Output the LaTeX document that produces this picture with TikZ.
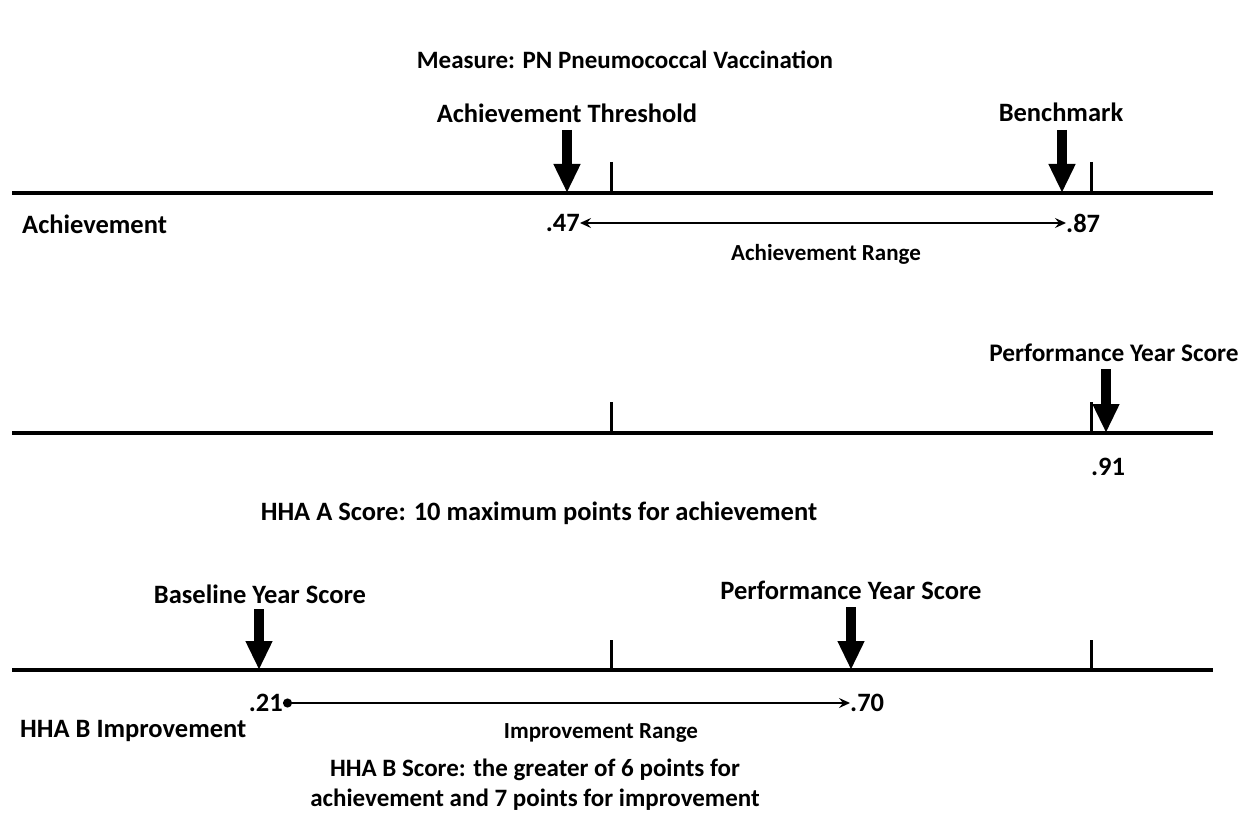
\documentclass[tikz,border=0pt]{standalone}
\usepackage{fontspec}
\setmainfont{Carlito}
\usetikzlibrary{arrows.meta}
\begin{document}
\begin{tikzpicture}[x=1pt,y=-1pt,
  lbl/.style={font=\bfseries\fontsize{26.5}{30}\selectfont, inner sep=0pt},
  small/.style={font=\bfseries\fontsize{23}{26}\selectfont, inner sep=0pt},
  axis/.style={line width=4pt},
  tickline/.style={line width=3pt},
  bigarrow/.style={line width=10pt, -{Triangle[width=25pt,length=29pt]}},
  rangeline/.style={line width=2pt},
  rtip/.tip={Stealth[length=11pt,width=10pt,inset=4pt]}
]
\useasboundingbox (0,0) rectangle (1241,834);
% title
\node[lbl, font=\bfseries\fontsize{25}{30}\selectfont] (title) at (625,60) {Measure: PN Pneumococcal Vaccination};

% ---- line 1
\coordinate (l1a) at (12,193);
\coordinate (l1b) at (1213,193);
\draw[axis] (l1a) -- (l1b);
\coordinate (t1a) at (611,162); \coordinate (t1ab) at (611,193);
\coordinate (t1b) at (1091,162); \coordinate (t1bb) at (1091,193);
\draw[tickline] (t1a) -- (t1ab);
\draw[tickline] (t1b) -- (t1bb);
\node[lbl] (at) at (567,113) {Achievement Threshold};
\node[lbl] (bm) at (1061,112) {Benchmark};
\coordinate (atp) at (567,193);
\coordinate (bmp) at (1062,193);
\coordinate (ats) at (567,130);
\coordinate (bms) at (1062,130);
\draw[bigarrow] (ats) -- (atp);
\draw[bigarrow] (bms) -- (bmp);
\node[lbl, anchor=west] (ach) at (22,224) {Achievement};
\node[lbl, anchor=east] (v47) at (580,223) {.47};
\node[lbl, anchor=west] (v87) at (1066,223) {.87};
\draw[rangeline, rtip-rtip] (v47.east) -- (v87.west);
\node[small] (arange) at (826,254) {Achievement Range};

% ---- line 2
\coordinate (l2a) at (12,433);
\coordinate (l2b) at (1213,433);
\draw[axis] (l2a) -- (l2b);
\coordinate (t2a) at (611,402); \coordinate (t2ab) at (611,433);
\coordinate (t2b) at (1091,402); \coordinate (t2bb) at (1091,433);
\draw[tickline] (t2a) -- (t2ab);
\draw[tickline] (t2b) -- (t2bb);
\node[lbl, font=\bfseries\fontsize{25.3}{30}\selectfont] (py1) at (1114,353) {Performance Year Score};
\coordinate (py1p) at (1106,433);
\coordinate (py1s) at (1106,369);
\draw[bigarrow] (py1s) -- (py1p);
\node[lbl] (v91) at (1108,467) {.91};
\node[lbl] (hhaa) at (539,513) {HHA A Score: 10 maximum points for achievement};

% ---- line 3
\coordinate (l3a) at (12,670);
\coordinate (l3b) at (1213,670);
\draw[axis] (l3a) -- (l3b);
\coordinate (t3a) at (611,640); \coordinate (t3ab) at (611,670);
\coordinate (t3b) at (1091,640); \coordinate (t3bb) at (1091,670);
\draw[tickline] (t3a) -- (t3ab);
\draw[tickline] (t3b) -- (t3bb);
\node[lbl] (by) at (260,594) {Baseline Year Score};
\node[lbl] (py2) at (851,590) {Performance Year Score};
\coordinate (byp) at (259,670);
\coordinate (py2p) at (851,670);
\coordinate (bys) at (259,609);
\coordinate (py2s) at (851,607);
\draw[bigarrow] (bys) -- (byp);
\draw[bigarrow] (py2s) -- (py2p);
\node[lbl, anchor=east] (v21) at (283,703) {.21};
\node[lbl, anchor=west] (v70) at (850,703) {.70};
\draw[rangeline, {Circle[length=9pt]}-rtip] (v21.east) -- (v70.west);
\node[lbl, anchor=west] (hhab) at (20,731) {HHA B Improvement};
\node[small] (irange) at (601,733) {Improvement Range};
\node[lbl, align=center, font=\bfseries\fontsize{25}{30}\selectfont] (hhabs) at (535,785) {HHA B Score: the greater of 6 points for\\achievement and 7 points for improvement};
\end{tikzpicture}
\end{document}
